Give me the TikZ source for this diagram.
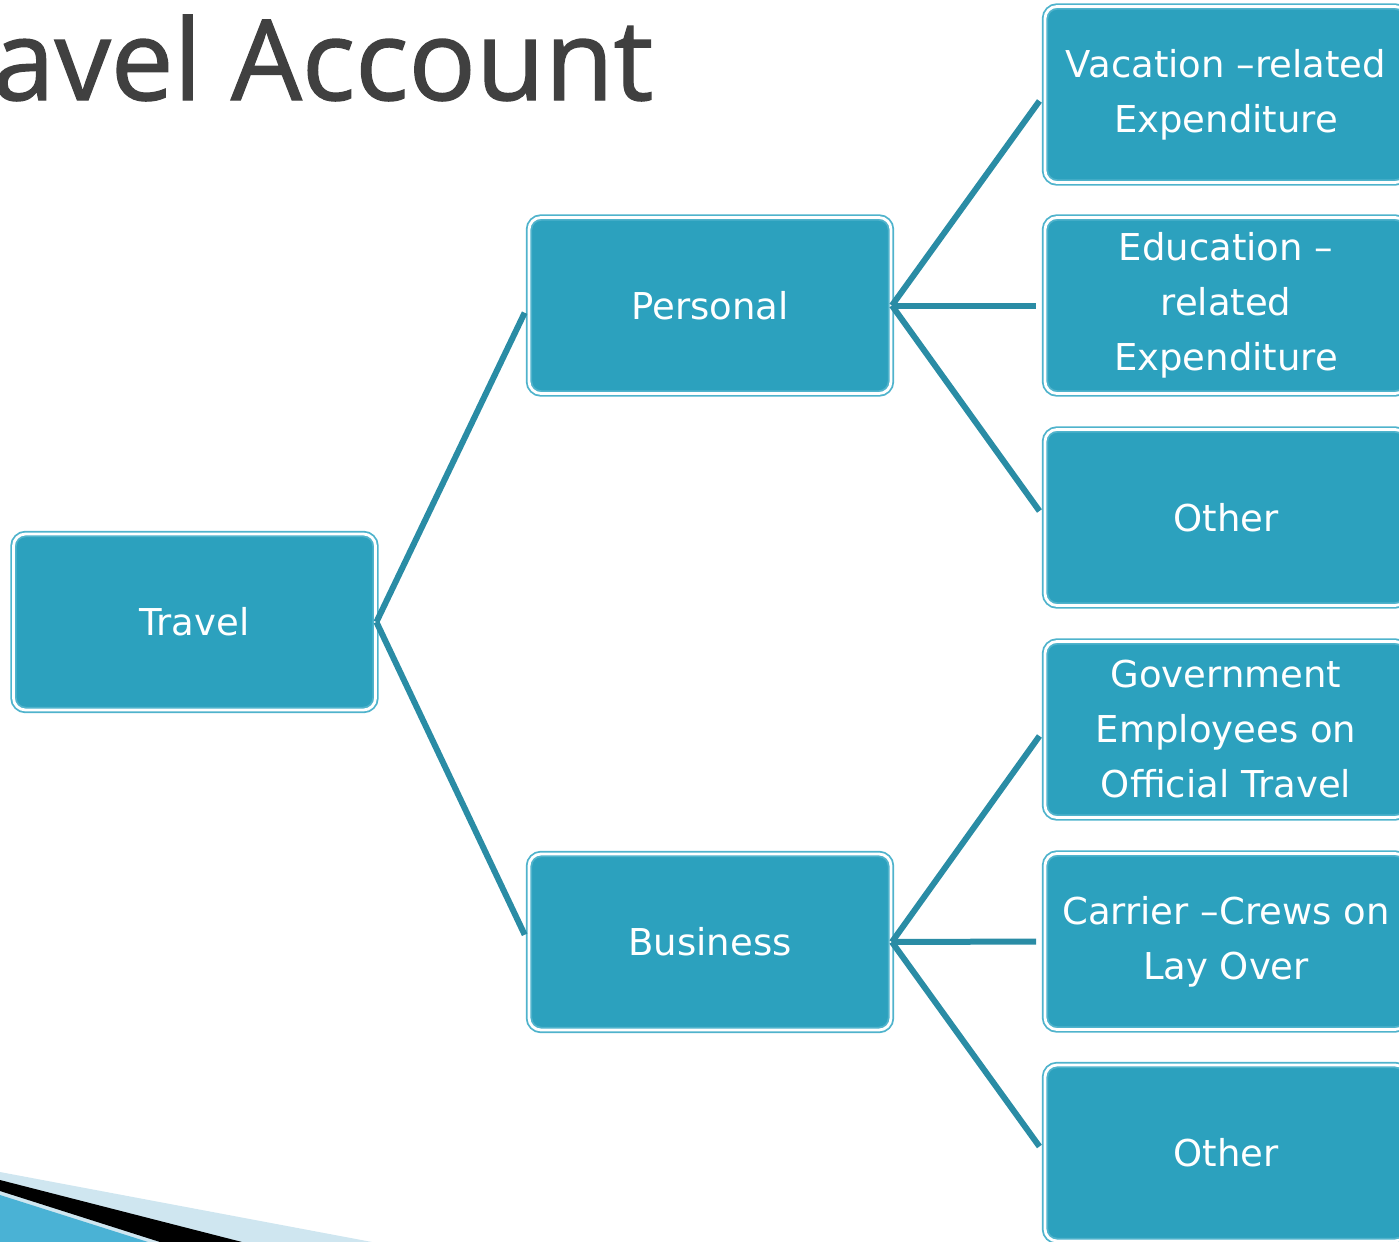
\documentclass[tikz,border=0pt]{standalone}
\usepackage{fontspec}
\usepackage{xcolor}
\newfontfamily\titlefont[FakeBold=1.2]{Open Sans}
\newfontfamily\boxfont{DejaVu Sans}

\definecolor{boxfill}{HTML}{2CA1BE}
\definecolor{boxline}{HTML}{4FB3CC}
\definecolor{linkcol}{HTML}{2A8CA5}
\definecolor{titlegray}{HTML}{404040}
\definecolor{stripelight}{HTML}{CFE6F0}
\definecolor{stripeblue}{HTML}{4AB2D5}

\tikzset{
  box/.style={draw=boxline, double=white, double distance=1.4pt, line width=0.9pt,
    fill=boxfill, rounded corners=6pt, minimum width=181pt, minimum height=88pt,
    align=center, text=white, font=\boxfont\fontsize{18.5}{27.5}\selectfont},
  link/.style={draw=linkcol, line width=3pt, shorten >=4pt},
}

\begin{document}
\begin{tikzpicture}[x=0.5pt, y=-0.5pt]
    \useasboundingbox (0,0) rectangle (1399,1242);
    \clip (0,0) rectangle (1399,1242);

    % corner decoration
    \fill[stripelight] (0,1172) -- (372,1242) -- (0,1242) -- cycle;
    \fill[black] (0,1180) -- (242,1242) -- (160,1242) -- (0,1191) -- cycle;
    \fill[stripeblue] (0,1195) -- (148,1242) -- (0,1242) -- cycle;

    \node[anchor=base west, inner sep=0, text=titlegray,
        font=\titlefont\fontsize{56}{60}\selectfont] (title) at (-8,100) {avel Account};

    \node[box] (travel) at (194.5,622) {Travel};
    \node[box] (personal) at (710,305.5) {Personal};
    \node[box] (business) at (710,942) {Business};

    \node[box] (vacation) at (1226,94.5) {Vacation –related\\Expenditure};
    \node[box] (education) at (1226,305.5) {Education –\\related\\Expenditure};
    \node[box] (otherPersonal) at (1226,517.5) {Other};
    \node[box] (government) at (1226,729.5) {Government\\Employees on\\Official Travel};
    \node[box] (carrier) at (1226,941.5) {Carrier –Crews on\\Lay Over};
    \node[box] (otherBusiness) at (1226,1153) {Other};

    \draw[link] (travel.east) -- (personal.west);
    \draw[link] (travel.east) -- (business.west);

    \draw[link] (personal.east) -- (vacation.west);
    \draw[link] (personal.east) -- (education.west);
    \draw[link] (personal.east) -- (otherPersonal.west);

    \draw[link] (business.east) -- (government.west);
    \draw[link] (business.east) -- (carrier.west);
    \draw[link] (business.east) -- (otherBusiness.west);
\end{tikzpicture}
\end{document}
